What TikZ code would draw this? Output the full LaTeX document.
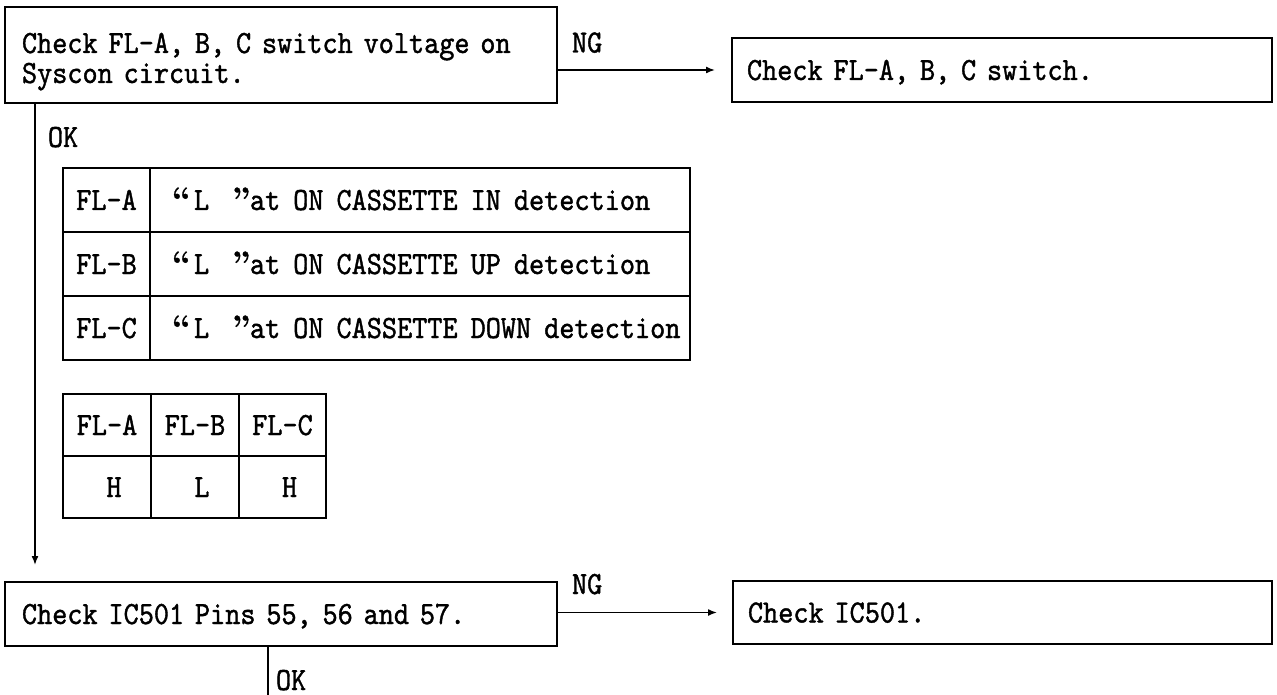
\documentclass[tikz,border=0pt]{standalone}
\usepackage{fontspec}
\newfontfamily\reffont[FakeStretch=0.89,FakeBold=1.2]{lmmono10-regular.otf}
\newfontfamily\quotefont[FakeBold=1]{lmroman10-bold.otf}
\newcommand{\quotedL}{\makebox[22pt][l]{\quotefont “}\makebox[38pt][l]{L}\makebox[18pt][l]{\quotefont ”}}
\newcommand{\rowtext}[1]{\makebox[496pt][l]{\spaceskip=13pt\quotedL at ON CASSETTE #1 detection}}
\usetikzlibrary{arrows.meta}
\begin{document}
\begin{tikzpicture}[x=1pt,y=-1pt,
  every node/.style={font={\reffont\fontsize{32.4}{30}\selectfont}, inner sep=0pt, outer sep=0pt},
  box/.style={draw, line width=1.5pt, rectangle, anchor=north west, align=left, text height=20pt, text depth=0pt},
  cell/.style={draw, line width=1.5pt, rectangle, anchor=north west, text height=20pt, text depth=0pt},
  lbl/.style={anchor=west, text height=20pt, text depth=0pt},
  arr/.style={line width=1.5pt, -{Latex[length=9pt,width=7pt]}},
  conn/.style={line width=1.5pt}]
\useasboundingbox (0,0) rectangle (1277,695);

% boxes
\node[box, minimum width=552pt, minimum height=96pt, text width=518pt, inner xsep=17pt,
      text height=26pt, text depth=30pt] (b1) at (5,7)
  {Check FL-A, B, C switch voltage on\\Syscon circuit.};
\node[box, minimum width=540pt, minimum height=64pt, text width=510pt, inner xsep=15pt] (b2) at (732,38)
  {Check FL-A, B, C switch.};
\node[box, minimum width=552pt, minimum height=64pt, text width=518pt, inner xsep=17pt] (b3) at (5,582)
  {Check IC501 Pins 55, 56 and 57.};
\node[box, minimum width=539pt, minimum height=63pt, text width=509pt, inner xsep=15pt] (b4) at (733,581)
  {Check IC501.};

% table 1
\node[cell, minimum width=87pt, minimum height=64pt] (ta1) at (63,168) {FL-A};
\node[cell, minimum width=87pt, minimum height=64pt] (ta2) at (63,232) {FL-B};
\node[cell, minimum width=87pt, minimum height=64pt] (ta3) at (63,296) {FL-C};
\node[cell, minimum width=540pt, minimum height=64pt, inner xsep=22pt] (tb1) at (150,168) {\rowtext{IN}};
\node[cell, minimum width=540pt, minimum height=64pt, inner xsep=22pt] (tb2) at (150,232) {\rowtext{UP}};
\node[cell, minimum width=540pt, minimum height=64pt, inner xsep=22pt] (tb3) at (150,296) {\rowtext{DOWN}};

% table 2
\node[cell, minimum width=88pt, minimum height=62pt] (ha) at (63,394) {FL-A};
\node[cell, minimum width=88pt, minimum height=62pt] (hb) at (151,394) {FL-B};
\node[cell, minimum width=87pt, minimum height=62pt] (hc) at (239,394) {FL-C};
\node[cell, minimum width=88pt, minimum height=62pt] (va) at (63,456) {\hspace*{14pt}H};
\node[cell, minimum width=88pt, minimum height=62pt] (vb) at (151,456) {\hspace*{14pt}L};
\node[cell, minimum width=87pt, minimum height=62pt] (vc) at (239,456) {\hspace*{14pt}H};

% labels
\node[lbl] (ng1) at (572,42.5) {NG};
\node[lbl] (ng2) at (572,584) {NG};
\node[lbl] (ok1) at (48,137) {OK};
\node[lbl] (ok2) at (276,680) {OK};

% connectors
\coordinate (v1) at (35,0);
\coordinate (e2) at (268,695);
\draw[arr, shorten >=17pt] (b1.east |- b2.west) -- (b2.west);
\draw[arr, shorten >=17pt] (v1 |- b1.south) -- (v1 |- b3.north);
\draw[arr, shorten >=16pt] (b3.east |- b4.west) -- (b4.west);
\draw[conn] (e2 |- b3.south) -- (e2);
\end{tikzpicture}
\end{document}
